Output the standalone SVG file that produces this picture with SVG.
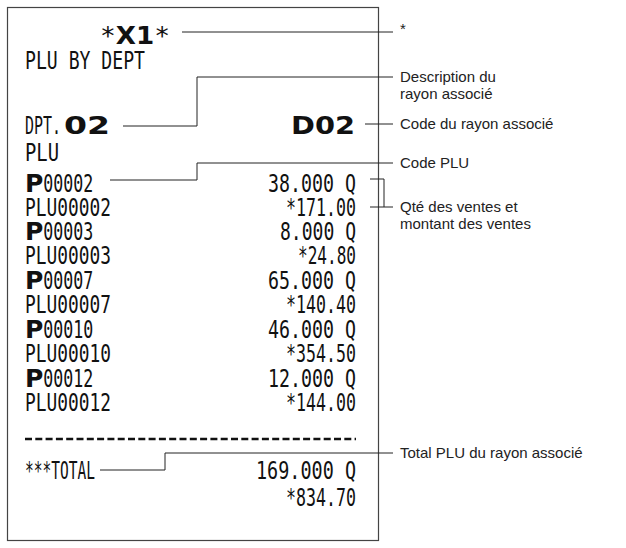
<svg xmlns="http://www.w3.org/2000/svg" width="626" height="548" viewBox="0 0 626 548">
<style>
.r{font-family:"DejaVu Sans Mono","Liberation Mono",monospace;font-size:25px;fill:#111}
.b{font-family:"DejaVu Sans","Liberation Sans",sans-serif;font-weight:bold;font-size:25px;fill:#111}
.e{text-anchor:end}
.l{font-family:"Liberation Sans",Arial,sans-serif;font-size:15px;fill:#222}
.c{fill:none;stroke:#222;stroke-width:1}
</style>
<rect x="7.5" y="7.5" width="371" height="533" fill="#fff" stroke="#444" stroke-width="1.2"/>
<g id="receipt">
<text class="r" x="100" y="44" textLength="70" lengthAdjust="spacingAndGlyphs"><tspan>*</tspan><tspan class="b" font-size="26">X1</tspan><tspan>*</tspan></text>
<text class="r" x="25" y="69" textLength="120" lengthAdjust="spacingAndGlyphs">PLU BY DEPT</text>
<text class="r" x="25" y="134" textLength="36" lengthAdjust="spacingAndGlyphs">DPT.</text>
<text class="b" x="64" y="134" textLength="46" lengthAdjust="spacingAndGlyphs">02</text>
<text class="b e" x="355" y="134" textLength="64" lengthAdjust="spacingAndGlyphs">D02</text>
<text class="r" x="25" y="161" textLength="34" lengthAdjust="spacingAndGlyphs">PLU</text>
<g class="r">
<text x="25" y="192"><tspan class="b">P</tspan><tspan textLength="50" lengthAdjust="spacingAndGlyphs">00002</tspan></text>
<text x="25" y="216" textLength="86" lengthAdjust="spacingAndGlyphs">PLU00002</text>
<text x="25" y="240"><tspan class="b">P</tspan><tspan textLength="50" lengthAdjust="spacingAndGlyphs">00003</tspan></text>
<text x="25" y="264" textLength="86" lengthAdjust="spacingAndGlyphs">PLU00003</text>
<text x="25" y="289"><tspan class="b">P</tspan><tspan textLength="50" lengthAdjust="spacingAndGlyphs">00007</tspan></text>
<text x="25" y="313" textLength="86" lengthAdjust="spacingAndGlyphs">PLU00007</text>
<text x="25" y="338"><tspan class="b">P</tspan><tspan textLength="50" lengthAdjust="spacingAndGlyphs">00010</tspan></text>
<text x="25" y="362" textLength="86" lengthAdjust="spacingAndGlyphs">PLU00010</text>
<text x="25" y="387"><tspan class="b">P</tspan><tspan textLength="50" lengthAdjust="spacingAndGlyphs">00012</tspan></text>
<text x="25" y="411" textLength="86" lengthAdjust="spacingAndGlyphs">PLU00012</text>
<text x="25" y="479" textLength="70" lengthAdjust="spacingAndGlyphs">***TOTAL</text>
</g>
<g class="r e">
<text x="356" y="192" textLength="88" lengthAdjust="spacingAndGlyphs">38.000 Q</text>
<text x="356" y="216" textLength="70" lengthAdjust="spacingAndGlyphs">*171.00</text>
<text x="356" y="240" textLength="76" lengthAdjust="spacingAndGlyphs">8.000 Q</text>
<text x="356" y="264" textLength="58" lengthAdjust="spacingAndGlyphs">*24.80</text>
<text x="356" y="289" textLength="88" lengthAdjust="spacingAndGlyphs">65.000 Q</text>
<text x="356" y="313" textLength="70" lengthAdjust="spacingAndGlyphs">*140.40</text>
<text x="356" y="338" textLength="88" lengthAdjust="spacingAndGlyphs">46.000 Q</text>
<text x="356" y="362" textLength="70" lengthAdjust="spacingAndGlyphs">*354.50</text>
<text x="356" y="387" textLength="88" lengthAdjust="spacingAndGlyphs">12.000 Q</text>
<text x="356" y="411" textLength="70" lengthAdjust="spacingAndGlyphs">*144.00</text>
<text x="356" y="479" textLength="100" lengthAdjust="spacingAndGlyphs">169.000 Q</text>
<text x="356" y="506" textLength="70" lengthAdjust="spacingAndGlyphs">*834.70</text>
</g>
<line x1="25" y1="439" x2="356" y2="439" stroke="#111" stroke-width="2.5" stroke-dasharray="7,3.3"/>
</g>
<g id="connectors" class="c">
<path d="M182 32H393"/>
<path d="M123 126H197V77H393"/>
<path d="M365 124H393"/>
<path d="M110 180H197V163H393"/>
<path d="M370 179H384V207M370 207H393"/>
<path d="M100 470H165V453H393"/>
</g>
<g id="labels" class="l">
<text x="400" y="34">*</text>
<text x="400" y="82">Description du</text>
<text x="400" y="99">rayon associé</text>
<text x="400" y="129">Code du rayon associé</text>
<text x="400" y="168">Code PLU</text>
<text x="400" y="212">Qté des ventes et</text>
<text x="400" y="229">montant des ventes</text>
<text x="400" y="458">Total PLU du rayon associé</text>
</g>
</svg>
